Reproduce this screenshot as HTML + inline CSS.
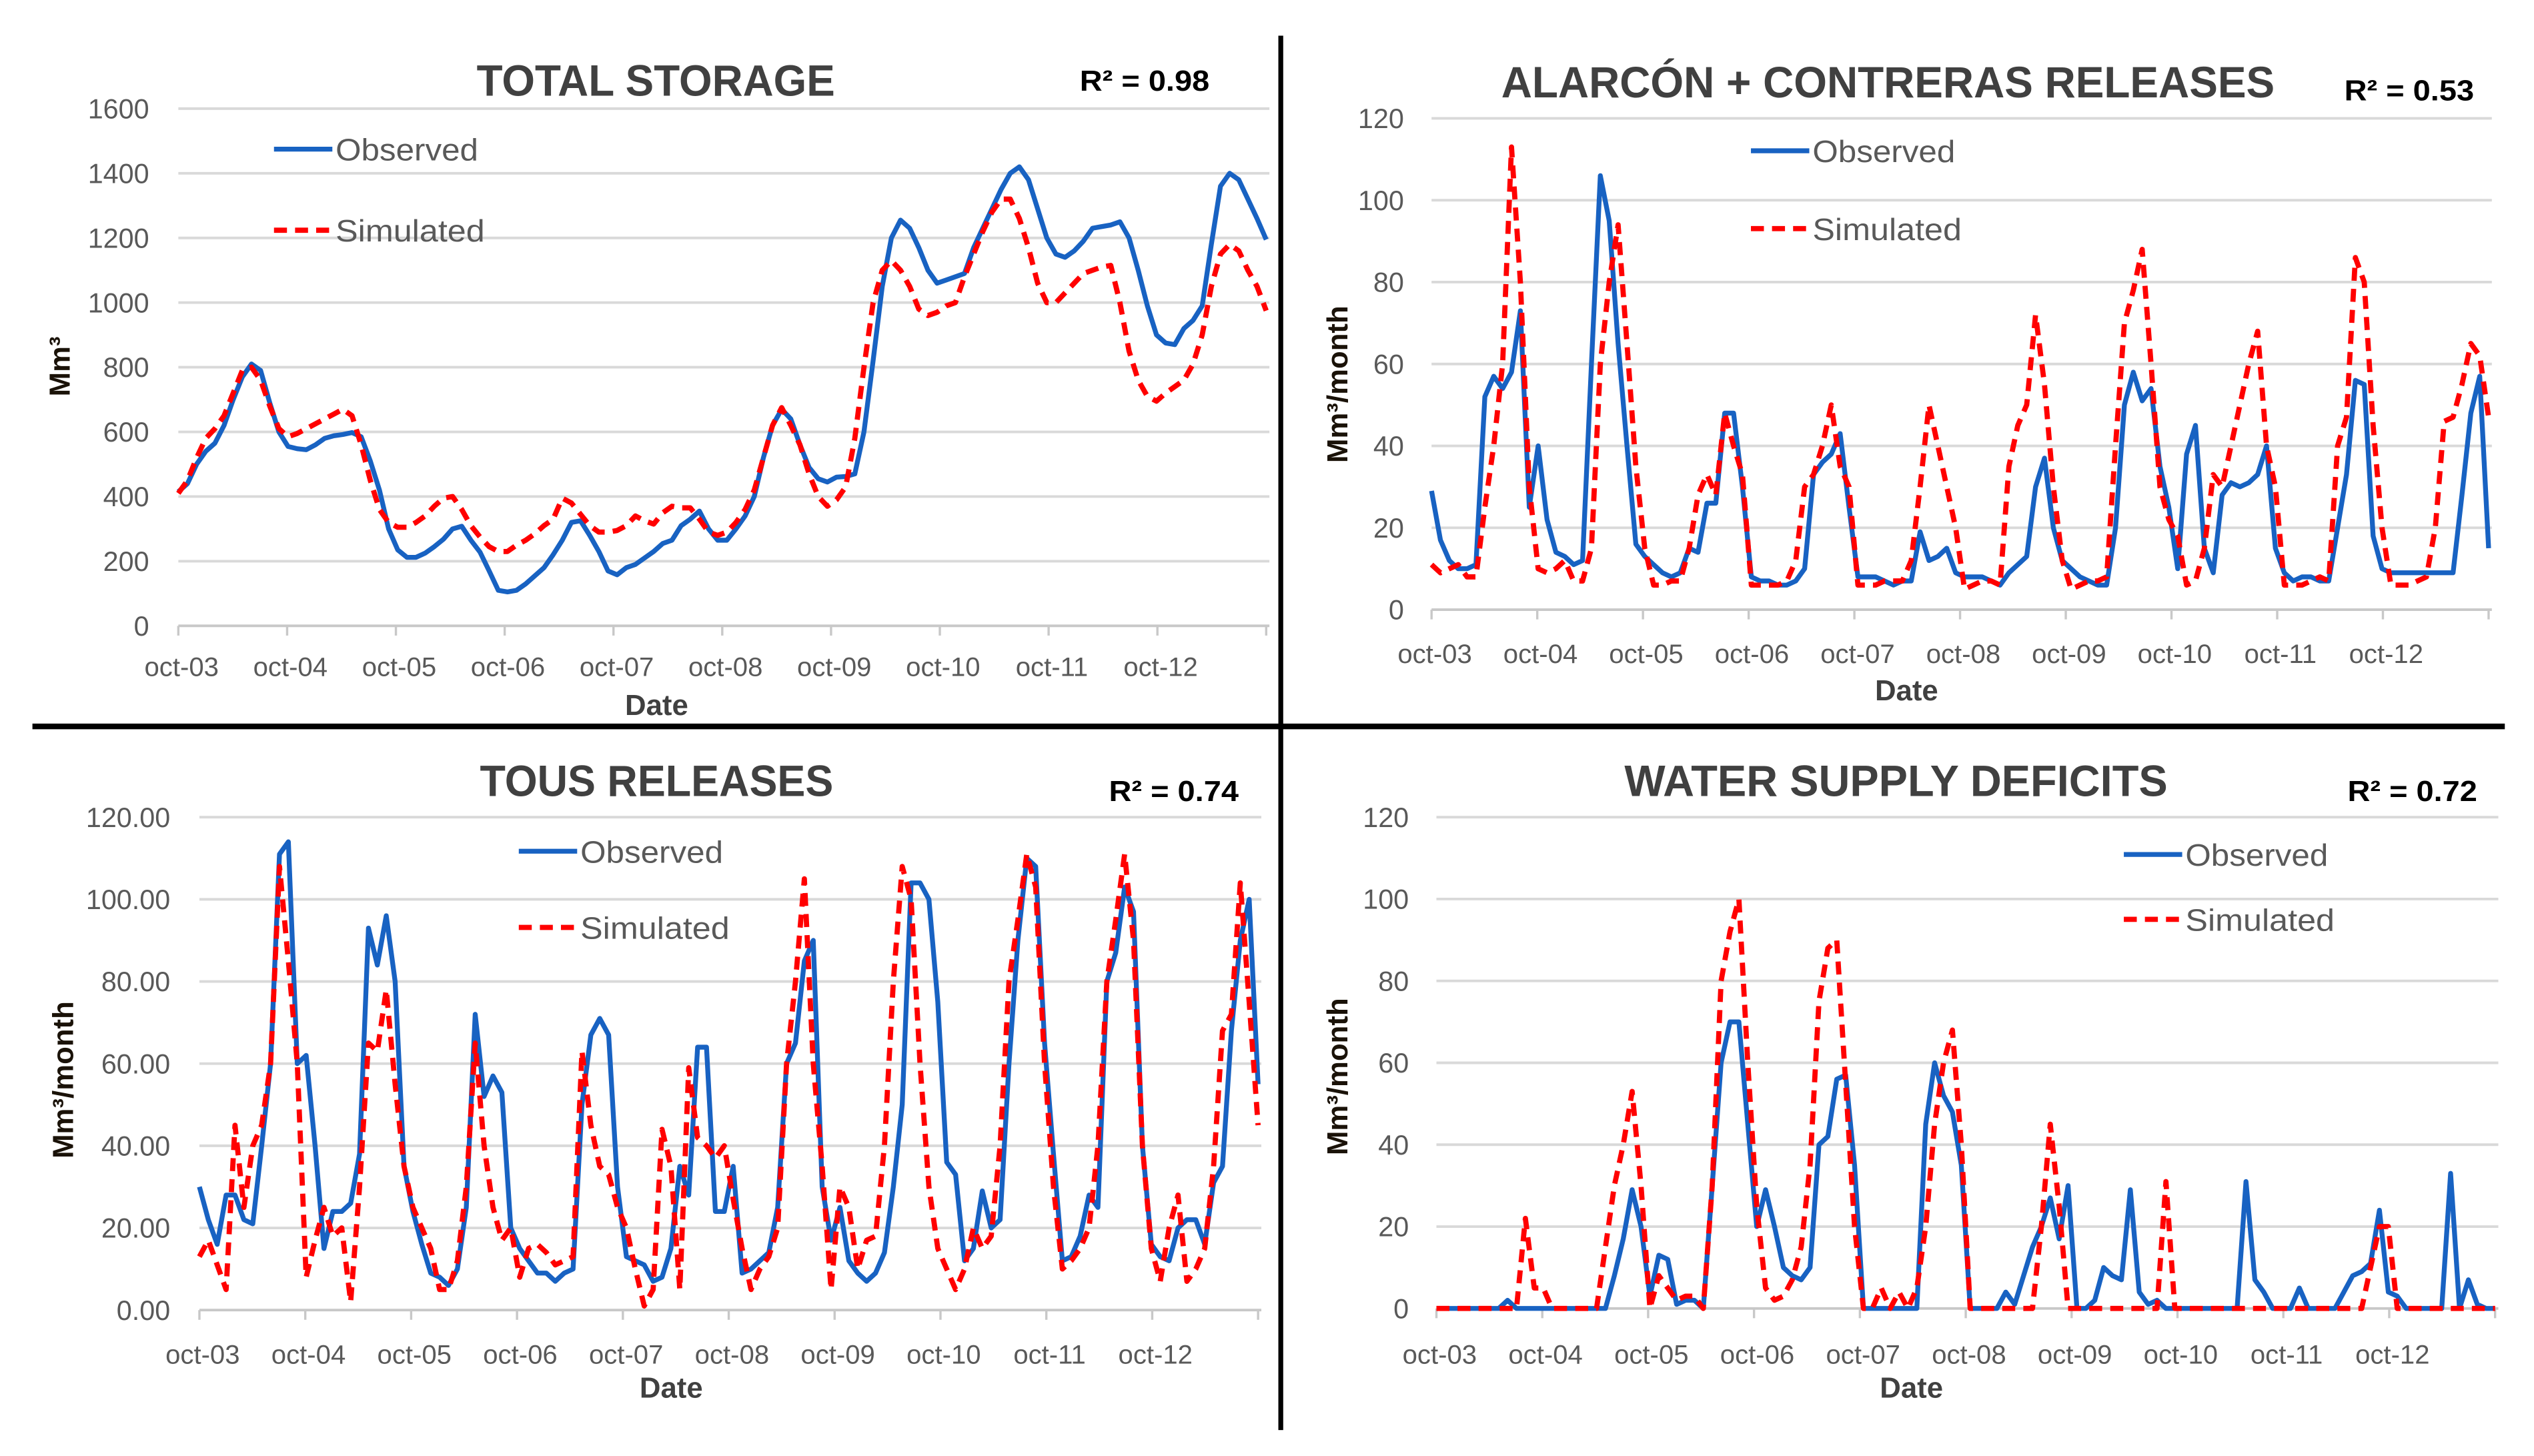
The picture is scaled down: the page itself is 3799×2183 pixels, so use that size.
<!DOCTYPE html>
<html><head><meta charset="utf-8">
<style>
html,body{margin:0;padding:0;background:#fff;}
svg{display:block;}
text{font-family:"Liberation Sans",sans-serif;}
</style></head>
<body>
<svg id="fig" xmlns="http://www.w3.org/2000/svg" width="3799" height="2183" viewBox="0 0 1563 898" preserveAspectRatio="none">
<rect x="0" y="0" width="1563" height="898" fill="#fff"/>
<line x1="790" y1="22" x2="790" y2="882" stroke="#000" stroke-width="3"/>
<line x1="20" y1="448" x2="1545" y2="448" stroke="#000" stroke-width="3.5"/>
<g id="p1"></g>
<g id="p2"></g>
<g id="p3"></g>
<g id="p4"></g>
</svg>
<script>
const yearLabels = ["oct-03","oct-04","oct-05","oct-06","oct-07","oct-08","oct-09","oct-10","oct-11","oct-12"];

const storageObs = [415,440,500,540,565,620,700,770,810,790,690,600,
555,548,545,560,580,588,592,598,585,510,420,300,
235,212,212,225,245,268,300,308,265,228,170,110,
105,110,130,155,180,220,265,320,325,280,230,170,
158,180,190,210,230,255,265,310,330,355,300,265,
265,300,340,400,520,620,670,640,560,490,455,445,
460,462,470,600,820,1050,1200,1255,1230,1170,1100,1060,
1070,1080,1090,1170,1230,1290,1350,1400,1420,1380,1290,1200,
1150,1140,1160,1190,1230,1235,1240,1250,1200,1100,990,900,
875,870,920,945,990,1180,1360,1400,1380,1320,1260,1195];
const storageSim = [410,450,520,580,610,650,720,790,800,760,680,610,
585,595,610,625,640,655,670,650,560,450,360,320,
305,305,320,340,370,395,400,360,310,275,245,230,
230,250,265,285,310,330,395,380,345,310,290,290,
295,310,340,325,315,350,370,365,365,330,290,280,
290,320,360,420,520,620,675,620,560,470,400,370,
390,430,580,800,1000,1100,1130,1100,1050,980,960,970,
990,1000,1080,1150,1220,1280,1320,1320,1260,1170,1060,1000,
1000,1030,1060,1090,1100,1110,1115,1000,850,760,710,695,
720,740,760,810,900,1050,1150,1180,1160,1100,1050,975];

const alarconObs = [29,17,12,10,10,11,52,57,54,58,73,25,
40,22,14,13,11,12,60,106,95,65,40,16,
13,11,9,8,9,15,14,26,26,48,48,30,
8,7,7,6,6,7,10,33,36,38,43,25,
8,8,8,7,6,7,7,19,12,13,15,9,
8,8,8,7,6,9,11,13,30,37,20,12,
10,8,7,6,6,20,50,58,51,54,35,25,
10,38,45,15,9,28,31,30,31,33,40,15,
9,7,8,8,7,7,20,33,56,55,18,10,
9,9,9,9,9,9,9,9,28,48,57,15];
const alarconSim = [11,9,10,11,8,8,25,40,60,113,80,30,
10,9,10,12,7,7,15,60,80,94,65,35,
15,6,6,7,7,15,28,33,28,48,40,33,
6,6,6,6,7,12,30,33,40,50,35,30,
6,6,6,7,7,7,12,30,50,40,30,20,
5,6,7,7,6,35,45,50,72,55,30,12,
5,6,7,7,8,40,70,78,88,60,30,22,
18,6,7,15,33,30,40,50,60,68,40,30,
6,6,6,7,8,7,40,47,86,80,45,20,
6,6,6,7,8,20,46,47,55,65,62,47];

const tousObs = [30,22,16,28,28,22,21,40,60,111,114,60,
62,40,15,24,24,26,38,93,84,96,80,35,
24,16,9,8,6,10,25,72,52,57,53,20,
15,12,9,9,7,9,10,50,67,71,67,30,
13,12,11,7,8,15,35,28,64,64,24,24,
35,9,10,12,14,25,60,65,85,90,30,17,
25,12,9,7,9,14,30,50,104,104,100,75,
36,33,12,15,29,20,22,60,90,110,108,65,
38,12,13,18,28,25,80,87,103,97,40,16,
13,12,20,22,22,16,31,35,68,90,100,55];
const tousSim = [13,17,11,5,45,25,40,45,60,108,85,60,
8,17,25,18,20,2,30,65,63,78,55,35,
25,20,15,5,5,12,30,65,40,25,17,20,
8,15,16,14,11,12,13,63,45,35,33,25,
20,10,1,5,44,35,5,59,42,40,37,40,
27,15,5,10,13,20,60,80,105,60,35,5,
30,25,10,17,18,40,80,108,100,60,30,15,
10,5,10,20,15,18,40,80,95,111,103,60,
30,10,12,15,20,40,80,95,111,90,40,15,
7,20,28,7,10,15,35,68,72,104,75,45];

const deficitObs = [0,0,0,0,0,0,0,0,2,0,0,0,
0,0,0,0,0,0,0,0,8,17,29,20,
3,13,12,1,2,2,0,30,60,70,70,45,
20,29,20,10,8,7,10,40,42,56,57,35,
0,0,0,0,0,0,0,45,60,52,48,35,
0,0,0,0,4,1,8,15,20,27,17,30,
0,0,2,10,8,7,29,4,1,2,0,0,
0,0,0,0,0,0,0,31,7,4,0,0,
0,5,0,0,0,0,4,8,9,11,24,4,
3,0,0,0,0,0,33,0,7,1,0,0];
const deficitSim = [0,0,0,0,0,0,0,0,0,0,22,5,
5,0,0,0,0,0,0,15,30,40,53,30,
0,8,5,2,3,3,0,30,80,92,100,60,
25,5,2,3,7,15,35,75,88,90,55,20,
0,0,5,0,4,0,5,20,45,60,68,40,
0,0,0,0,0,0,0,0,20,45,25,0,
0,0,0,0,0,0,0,0,0,0,31,0,
0,0,0,0,0,0,0,0,0,0,0,0,
0,0,0,0,0,0,0,0,0,10,20,20,
0,0,0,0,0,0,0,0,0,0,0,0];

const NS = "http://www.w3.org/2000/svg";
function mk(parent, tag, attrs, txt){
  const e = document.createElementNS(NS, tag);
  for (const k in attrs) e.setAttribute(k, attrs[k]);
  if (txt !== undefined) e.textContent = txt;
  parent.appendChild(e);
  return e;
}

function drawPanel(cfg){
  const g = document.getElementById(cfg.id);
  const xScale = i => cfg.x0 + i * (cfg.x1 - cfg.x0) / 119;
  const yScale = v => cfg.yBase - v / cfg.max * (cfg.yBase - cfg.yTop);
  for (let v = 0; v <= cfg.max + 1e-9; v += cfg.step) {
    const y = yScale(v);
    if (v > 0) {
      const gl = mk(g, "line", {x1: cfg.x0, x2: cfg.x1 + 2, y1: y, y2: y, stroke: "#d9d9d9", "stroke-width": 1.6});
      
      
    }
    const t = mk(g, "text", {x: cfg.labelX, y: y + 6, "text-anchor": "end", "font-size": 17, fill: "#595959"}, v.toFixed(cfg.dec));
    
    
  }
  const ax = mk(g, "line", {x1: cfg.x0, x2: cfg.x1 + 2, y1: cfg.yBase, y2: cfg.yBase, stroke: "#c8c8c8", "stroke-width": 1.6});
  
  
  for (let k = 0; k <= 10; k++) {
    const x = cfg.x0 + k * (cfg.x1 - cfg.x0) / 10;
    const tk = mk(g, "line", {x1: x, x2: x, y1: cfg.yBase, y2: cfg.yBase + 6, stroke: "#c8c8c8", "stroke-width": 1.4});
    
    
    if (k < yearLabels.length) {
      const t = mk(g, "text", {x: x + 2, y: cfg.xLabY, "text-anchor": "middle", "font-size": 16.5, fill: "#595959"}, yearLabels[k]);
      
      
    }
  }
  const pts = arr => arr.map((v, i) => xScale(i).toFixed(2) + "," + yScale(v).toFixed(2)).join(" ");
  const obs = mk(g, "polyline", {points: pts(cfg.obs), fill: "none", stroke: "#1862c2", "stroke-width": 3.0, "stroke-linejoin": "round"});
  
  
  const sim = mk(g, "polyline", {points: pts(cfg.sim), fill: "none", stroke: "#ff0000", "stroke-width": 3.2, "stroke-dasharray": "8,5", "stroke-linejoin": "round"});
  
  
  const ti = mk(g, "text", {x: cfg.titleX, y: cfg.titleY, "font-size": 27, "font-weight": "bold", fill: "#404040", textLength: cfg.titleW, lengthAdjust: "spacingAndGlyphs"}, cfg.title);
  
  
  const r2 = mk(g, "text", {x: cfg.r2X, y: cfg.r2Y, "font-size": 18, "font-weight": "bold", fill: "#000", textLength: 80, lengthAdjust: "spacingAndGlyphs"}, cfg.r2);
  
  
  const l1 = mk(g, "line", {x1: cfg.legX, x2: cfg.legX + 36, y1: cfg.legY1, y2: cfg.legY1, stroke: "#1862c2", "stroke-width": 3});
  
  
  const lt1 = mk(g, "text", {x: cfg.legX + 38, y: cfg.legY1 + 7, "font-size": 19, fill: "#595959", textLength: 88, lengthAdjust: "spacingAndGlyphs"}, "Observed");
  
  
  const l2 = mk(g, "line", {x1: cfg.legX, x2: cfg.legX + 36, y1: cfg.legY2, y2: cfg.legY2, stroke: "#ff0000", "stroke-width": 3.2, "stroke-dasharray": "8,5"});
  
  
  const lt2 = mk(g, "text", {x: cfg.legX + 38, y: cfg.legY2 + 7, "font-size": 19, fill: "#595959", textLength: 92, lengthAdjust: "spacingAndGlyphs"}, "Simulated");
  
  
  const dt = mk(g, "text", {x: cfg.dateX, y: cfg.dateY, "text-anchor": "middle", "font-size": 18, "font-weight": "bold", fill: "#404040"}, "Date");
  
  
  const yt = mk(g, "text", {x: 0, y: 0, "text-anchor": "middle", "font-size": 18, "font-weight": "bold", fill: "#1a1208", transform: "translate(" + cfg.ytX + "," + cfg.ytY + ") rotate(-90)"}, cfg.yTitle);
  
  
}

drawPanel({id:"p1", x0:110, x1:781, yBase:386, yTop:67, max:1600, step:200, dec:0, labelX:92, xLabY:417,
  obs:storageObs, sim:storageSim, title:"TOTAL STORAGE", titleX:294, titleY:59, titleW:221,
  r2:"R² = 0.98", r2X:666, r2Y:56, legX:169, legY1:92, legY2:142, dateX:405, dateY:441,
  yTitle:"Mm³", ytX:43, ytY:226});
drawPanel({id:"p2", x0:883, x1:1535, yBase:376, yTop:73, max:120, step:20, dec:0, labelX:866, xLabY:409,
  obs:alarconObs, sim:alarconSim, title:"ALARCÓN + CONTRERAS RELEASES", titleX:926, titleY:60, titleW:477,
  r2:"R² = 0.53", r2X:1446, r2Y:62, legX:1080, legY1:93, legY2:141, dateX:1176, dateY:432,
  yTitle:"Mm³/month", ytX:831, ytY:237});
drawPanel({id:"p3", x0:123, x1:776, yBase:808, yTop:504, max:120, step:20, dec:2, labelX:105, xLabY:841,
  obs:tousObs, sim:tousSim, title:"TOUS RELEASES", titleX:296, titleY:491, titleW:218,
  r2:"R² = 0.74", r2X:684, r2Y:494, legX:320, legY1:525, legY2:572, dateX:414, dateY:862,
  yTitle:"Mm³/month", ytX:45, ytY:666});
drawPanel({id:"p4", x0:886, x1:1539, yBase:807, yTop:504, max:120, step:20, dec:0, labelX:869, xLabY:841,
  obs:deficitObs, sim:deficitSim, title:"WATER SUPPLY DEFICITS", titleX:1002, titleY:491, titleW:335,
  r2:"R² = 0.72", r2X:1448, r2Y:494, legX:1310, legY1:527, legY2:567, dateX:1179, dateY:862,
  yTitle:"Mm³/month", ytX:831, ytY:664});
</script>
</body></html>
